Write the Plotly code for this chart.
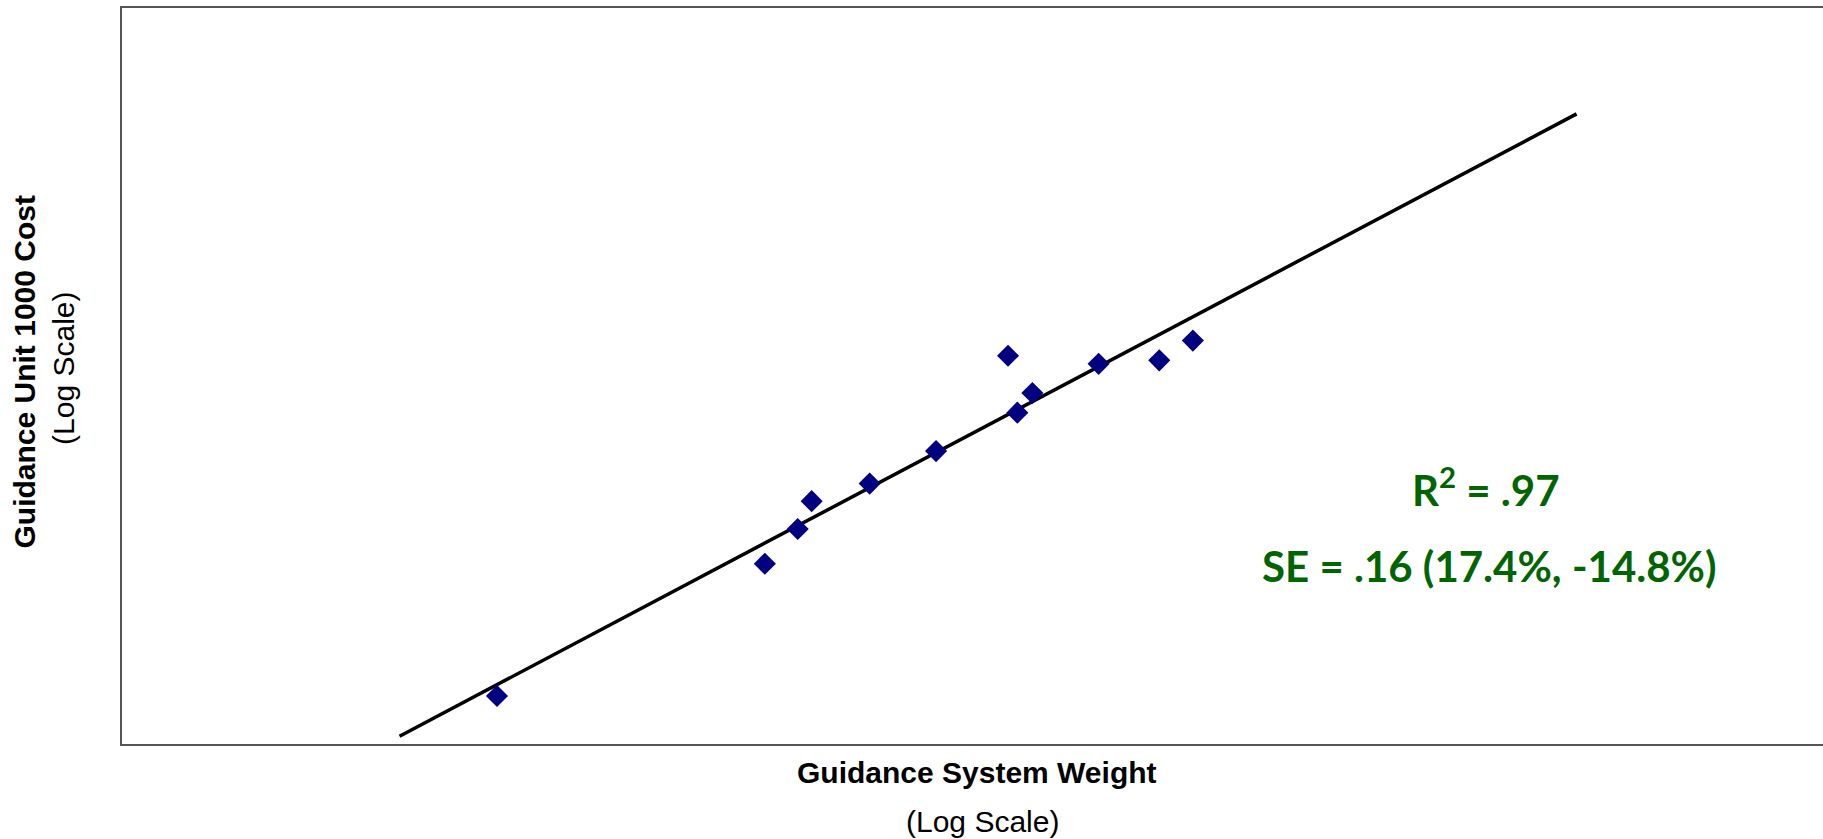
import plotly.graph_objects as go

# Data (log-log scatter of guidance unit cost vs. weight)
weight = [27.6, 57.0, 62.3, 64.7, 75.7, 90.6, 110.1, 112.9, 117.6, 140.7, 165.8, 181.6]
cost = [13.5, 30.9, 38.4, 45.7, 51.0, 62.5, 113.5, 79.5, 89.9, 107.9, 110.3, 124.8]

# Fitted regression line end points
fit_weight = [21.2, 513.2]
fit_cost = [10.5, 515.5]

x_title = "Guidance System Weight"
y_title = "Guidance Unit 1000 Cost"
scale_note = "(Log Scale)"
r2_text = "R<sup>2</sup> = .97"
se_text = "SE = .16 (17.4%, -14.8%)"

fig = go.Figure()
fig.add_trace(go.Scatter(
    x=fit_weight, y=fit_cost, mode="lines",
    line=dict(color="black", width=3.5), hoverinfo="skip", showlegend=False,
))
fig.add_trace(go.Scatter(
    x=weight, y=cost, mode="markers",
    marker=dict(symbol="diamond", size=17, color="#000080", line=dict(width=0)),
    showlegend=False,
))

axis_common = dict(
    type="log", showgrid=False, zeroline=False, showticklabels=False, ticks="",
    showline=True, linecolor="#555555", linewidth=2,
)
fig.update_xaxes(range=[1, 3], mirror=True, **axis_common)
fig.update_yaxes(range=[1, 3], mirror=False, **axis_common)

green = "#006400"
annotations = [
    dict(text="<b>" + x_title + "</b>", x=0.5027, y=-0.0394,
         font=dict(family="Arial, Liberation Sans", size=30, color="black")),
    dict(text=scale_note, x=0.5056, y=-0.1055,
         font=dict(family="Arial, Liberation Sans", size=30, color="black")),
    dict(text="<b>" + y_title + "</b>", x=-0.0576, y=0.5048, textangle=-90,
         font=dict(family="Arial, Liberation Sans", size=30, color="black")),
    dict(text=scale_note, x=-0.0341, y=0.511, textangle=-90,
         font=dict(family="Arial, Liberation Sans", size=30, color="black")),
    dict(text="<b>" + r2_text + "</b>", x=0.8019, y=0.3492,
         font=dict(family="Lato", size=42, color=green)),
    dict(text="<b>" + se_text + "</b>", x=0.8042, y=0.2425,
         font=dict(family="Lato", size=42, color=green)),
]
for a in annotations:
    a.update(xref="paper", yref="paper", showarrow=False, xanchor="center", yanchor="middle")

fig.update_layout(
    width=1823, height=839,
    margin=dict(l=122, r=0, t=8, b=95),
    paper_bgcolor="white", plot_bgcolor="white",
    annotations=annotations,
)

fig.write_html(
    "out.html",
    config={"displayModeBar": False},
    post_script="document.body.style.margin='0';document.body.style.overflow='hidden';",
)
